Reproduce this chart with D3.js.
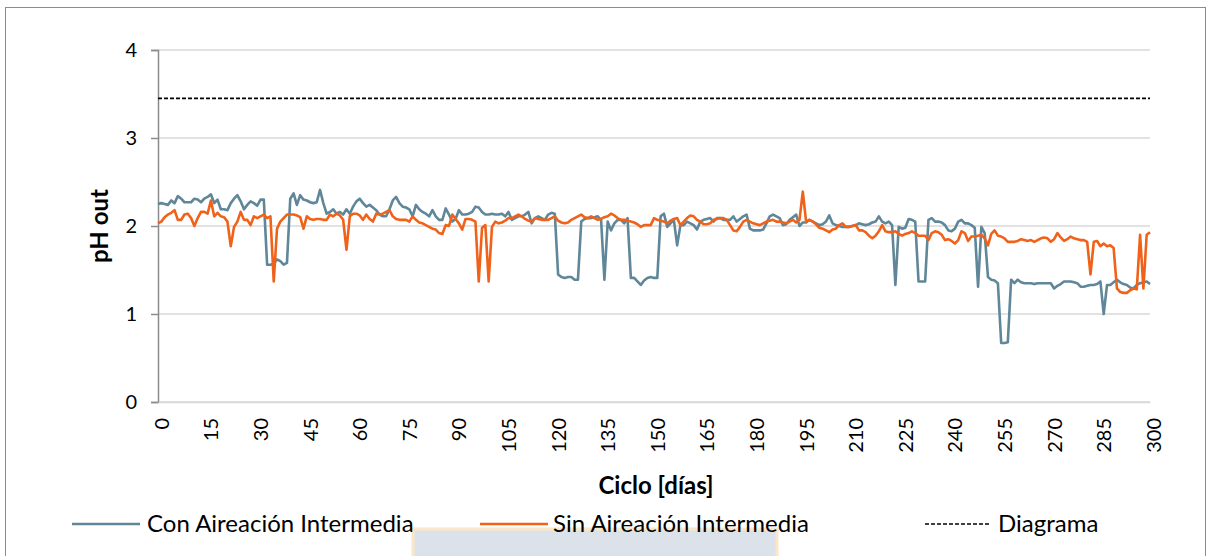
<!DOCTYPE html>
<html>
<head>
<meta charset="utf-8">
<script src="https://cdn.jsdelivr.net/npm/d3@7"></script>
<style>
  html, body { margin: 0; padding: 0; background: #ffffff; }
  svg { display: block; font-family: Lato, "Open Sans", sans-serif; }
</style>
</head>
<body>
<svg id="chart" width="1212" height="556"></svg>
<script>
// ---- Data ----
const seriesNames = ["Con Aireación Intermedia", "Sin Aireación Intermedia", "Diagrama"];

const conAireacion = [
  2.25, 2.26, 2.25, 2.24, 2.29, 2.26, 2.34, 2.31, 2.27, 2.27, 2.27, 2.31, 2.30, 2.27, 2.31,
  2.33, 2.36, 2.26, 2.30, 2.19, 2.19, 2.18, 2.26, 2.31, 2.35, 2.28, 2.19, 2.24, 2.28, 2.26,
  2.23, 2.30, 2.30, 1.56, 1.56, 1.57, 1.62, 1.60, 1.56, 1.58, 2.31, 2.37, 2.24, 2.35, 2.30,
  2.29, 2.27, 2.26, 2.27, 2.41, 2.26, 2.14, 2.16, 2.19, 2.14, 2.16, 2.13, 2.19, 2.14, 2.22,
  2.28, 2.31, 2.26, 2.22, 2.24, 2.21, 2.18, 2.13, 2.11, 2.11, 2.19, 2.29, 2.33, 2.26, 2.22,
  2.21, 2.19, 2.11, 2.24, 2.19, 2.16, 2.14, 2.11, 2.18, 2.11, 2.07, 2.07, 2.20, 2.13, 2.05,
  2.08, 2.18, 2.13, 2.13, 2.14, 2.16, 2.22, 2.21, 2.16, 2.13, 2.13, 2.14, 2.13, 2.13, 2.14,
  2.11, 2.16, 2.07, 2.09, 2.11, 2.11, 2.13, 2.16, 2.03, 2.09, 2.11, 2.09, 2.07, 2.13, 2.15,
  2.14, 1.45, 1.42, 1.41, 1.42, 1.42, 1.39, 1.39, 2.05, 2.08, 2.09, 2.09, 2.10, 2.11, 2.07,
  1.39, 2.05, 1.95, 2.03, 2.07, 2.07, 2.03, 2.09, 1.41, 1.41, 1.37, 1.33, 1.38, 1.41, 1.42,
  1.41, 1.41, 2.11, 2.14, 1.99, 2.03, 2.07, 1.78, 2.01, 2.01, 2.05, 2.03, 2.01, 1.96, 2.05,
  2.07, 2.08, 2.09, 2.05, 2.09, 2.09, 2.07, 2.07, 2.07, 2.11, 2.05, 2.08, 2.11, 2.13, 1.97,
  1.95, 1.95, 1.95, 1.96, 2.03, 2.11, 2.13, 2.11, 2.09, 2.01, 2.02, 2.07, 2.10, 2.13, 2.00,
  2.04, 2.04, 2.07, 2.05, 2.03, 2.01, 2.02, 2.05, 2.12, 2.03, 2.01, 2.00, 1.99, 1.99, 1.99,
  2.00, 2.01, 2.03, 2.02, 2.01, 2.02, 2.04, 2.05, 2.11, 2.05, 2.03, 2.05, 2.01, 1.33, 1.99,
  1.97, 1.98, 2.08, 2.07, 2.05, 1.37, 1.37, 1.37, 2.07, 2.09, 2.05, 2.05, 2.04, 2.01, 1.95,
  1.94, 1.97, 2.05, 2.07, 2.03, 2.03, 2.01, 1.98, 1.31, 1.99, 1.92, 1.42, 1.39, 1.38, 1.35,
  0.67, 0.67, 0.68, 1.39, 1.35, 1.39, 1.36, 1.35, 1.35, 1.35, 1.34, 1.35, 1.35, 1.35, 1.35,
  1.35, 1.29, 1.32, 1.34, 1.37, 1.37, 1.37, 1.36, 1.35, 1.31, 1.31, 1.32, 1.33, 1.33, 1.34,
  1.37, 1.00, 1.33, 1.33, 1.36, 1.39, 1.36, 1.34, 1.33, 1.30, 1.29, 1.33, 1.35, 1.36, 1.37, 1.34
];

const sinAireacion = [
  2.03, 2.05, 2.10, 2.13, 2.15, 2.18, 2.07, 2.07, 2.13, 2.14, 2.09, 2.00, 2.09, 2.16, 2.16,
  2.14, 2.29, 2.11, 2.15, 2.11, 2.10, 2.05, 1.77, 1.99, 2.05, 2.16, 2.07, 2.07, 2.01, 2.11,
  2.09, 2.11, 2.13, 2.09, 2.11, 1.37, 1.97, 2.05, 2.09, 2.13, 2.13, 2.13, 2.12, 2.10, 1.97,
  2.11, 2.08, 2.07, 2.08, 2.08, 2.07, 2.07, 2.13, 2.11, 2.14, 2.12, 2.07, 1.73, 2.11, 2.14,
  2.14, 2.12, 2.07, 2.13, 2.08, 2.05, 2.14, 2.13, 2.14, 2.16, 2.18, 2.11, 2.08, 2.07, 2.07,
  2.07, 2.05, 2.11, 2.07, 2.04, 2.03, 2.01, 1.99, 1.97, 1.96, 1.92, 1.91, 2.01, 2.00, 2.13,
  2.08, 2.03, 1.96, 2.08, 2.08, 2.07, 2.05, 1.37, 1.98, 2.01, 1.37, 1.99, 2.05, 2.03, 2.04,
  2.06, 2.09, 2.09, 2.11, 2.13, 2.11, 2.08, 2.06, 2.05, 2.09, 2.08, 2.07, 2.07, 2.07, 2.09,
  2.11, 2.06, 2.04, 2.03, 2.04, 2.07, 2.09, 2.11, 2.13, 2.10, 2.09, 2.11, 2.09, 2.07, 2.08,
  2.10, 2.11, 2.14, 2.12, 2.09, 2.07, 2.07, 2.06, 2.05, 2.04, 2.02, 1.99, 2.01, 2.01, 2.01,
  2.09, 2.07, 2.06, 2.05, 2.03, 2.06, 2.08, 2.09, 2.01, 2.05, 2.09, 2.12, 2.11, 2.07, 2.05,
  2.02, 2.02, 2.03, 2.07, 2.08, 2.09, 2.09, 2.07, 2.01, 1.95, 1.94, 1.99, 2.05, 2.07, 2.05,
  2.03, 2.02, 2.01, 2.03, 2.05, 2.06, 2.07, 2.05, 2.05, 2.04, 2.03, 2.05, 2.07, 2.04, 2.07,
  2.39, 2.05, 2.07, 2.05, 2.02, 1.98, 1.97, 1.95, 1.93, 1.96, 1.97, 2.01, 2.03, 1.99, 1.99,
  2.00, 2.01, 1.95, 1.95, 1.93, 1.89, 1.86, 1.89, 1.94, 2.01, 1.94, 1.93, 1.93, 1.94, 1.91,
  1.89, 1.91, 1.92, 1.94, 1.92, 1.89, 1.89, 1.89, 1.84, 1.92, 1.94, 1.93, 1.90, 1.84, 1.85,
  1.83, 1.80, 1.84, 1.94, 1.92, 1.83, 1.88, 1.88, 1.89, 1.90, 1.86, 1.78, 1.91, 1.95, 1.89,
  1.88, 1.86, 1.82, 1.82, 1.82, 1.83, 1.85, 1.84, 1.83, 1.84, 1.82, 1.84, 1.86, 1.87, 1.86,
  1.82, 1.85, 1.92, 1.87, 1.83, 1.85, 1.88, 1.86, 1.85, 1.84, 1.84, 1.82, 1.45, 1.82, 1.83,
  1.77, 1.80, 1.77, 1.78, 1.75, 1.29, 1.25, 1.24, 1.24, 1.27, 1.29, 1.28, 1.90, 1.29, 1.90, 1.93
];

// Diagrama: constant reference level across the whole range
const diagramaCiclo = [0, 300];
const diagramaValues = [3.45, 3.45];

// Categories: cycle day of each value (0 .. 300)
const ciclo = conAireacion.map((_, i) => i);

const xTickValues = [0, 15, 30, 45, 60, 75, 90, 105, 120, 135, 150, 165, 180, 195, 210, 225, 240, 255, 270, 285, 300];
const yTickValues = [0, 1, 2, 3, 4];

const xTitle = "Ciclo [días]";
const yTitle = "pH out";

// ---- Drawing ----
const svg = d3.select("#chart");
const plot = { left: 158, right: 1150, top: 50, bottom: 402 };
const colors = { con: "#5f8799", sin: "#f0621a", grid: "#d9d9d9", axis: "#8c8c8c" };

// watermark-like block behind the legend (part of the reference picture)
svg.append("rect")
  .attr("x", 413).attr("y", 529).attr("width", 364).attr("height", 40)
  .attr("fill", "#dbe2ea").attr("stroke", "#fce6c6").attr("stroke-width", 3);

// outer chart border
svg.append("rect")
  .attr("x", 5.5).attr("y", 7.5).attr("width", 1200).attr("height", 560)
  .attr("fill", "none").attr("stroke", "#8c8c8c").attr("stroke-width", 1);

const x = d3.scaleLinear().domain([0, 300]).range([plot.left, plot.right]);
const y = d3.scaleLinear().domain([0, 4]).range([plot.bottom, plot.top]);

// gridlines
svg.append("g")
  .selectAll("line")
  .data(yTickValues)
  .join("line")
  .attr("x1", plot.left).attr("x2", plot.right)
  .attr("y1", d => y(d)).attr("y2", d => y(d))
  .attr("stroke", colors.grid).attr("stroke-width", 1.5);

// y axis
const yAxis = svg.append("g")
  .attr("transform", `translate(${plot.left},0)`)
  .call(d3.axisLeft(y).tickValues(yTickValues).tickSize(7).tickPadding(14).tickFormat(d3.format("d")));
yAxis.select(".domain").attr("stroke", colors.axis).attr("stroke-width", 1.5);
yAxis.selectAll(".tick line").attr("stroke", colors.axis).attr("stroke-width", 1.5);
yAxis.selectAll(".tick text")
  .attr("font-size", 20).attr("fill", "#000").attr("font-family", "Lato, sans-serif");

// x axis (labels rotated)
const xAxis = svg.append("g")
  .attr("transform", `translate(0,${plot.bottom})`)
  .call(d3.axisBottom(x).tickValues(xTickValues).tickSize(0).tickFormat(d3.format("d")));
xAxis.select(".domain").attr("stroke", colors.grid).attr("stroke-width", 1.5);
xAxis.selectAll(".tick text")
  .attr("font-size", 20).attr("fill", "#000").attr("font-family", "Lato, sans-serif")
  .attr("text-anchor", "end")
  .attr("transform", "rotate(-90)")
  .attr("x", -16).attr("y", 3).attr("dy", "0.36em");

// lines
const line = d3.line().x((d, i) => x(ciclo[i])).y(d => y(d));

svg.append("path")
  .datum(conAireacion)
  .attr("fill", "none").attr("stroke", colors.con).attr("stroke-width", 2.6)
  .attr("stroke-linejoin", "round")
  .attr("d", line);

svg.append("path")
  .datum(sinAireacion)
  .attr("fill", "none").attr("stroke", colors.sin).attr("stroke-width", 2.6)
  .attr("stroke-linejoin", "round")
  .attr("d", line);

const dLine = d3.line().x((d, i) => x(diagramaCiclo[i])).y(d => y(d));
svg.append("path")
  .datum(diagramaValues)
  .attr("fill", "none").attr("stroke", "#000").attr("stroke-width", 1.6)
  .attr("stroke-dasharray", "4,2")
  .attr("d", dLine);

// axis titles
svg.append("text")
  .attr("x", 656).attr("y", 494)
  .attr("text-anchor", "middle")
  .attr("font-size", 24).attr("font-weight", "bold")
  .text(xTitle);

svg.append("text")
  .attr("transform", "translate(108,226) rotate(-90)")
  .attr("text-anchor", "middle")
  .attr("font-size", 24).attr("font-weight", "bold")
  .text(yTitle);

// legend
const legendItems = [
  { name: seriesNames[0], color: colors.con, dash: null, x1: 72, x2: 140, tx: 147 },
  { name: seriesNames[1], color: colors.sin, dash: null, x1: 480, x2: 548, tx: 553 },
  { name: seriesNames[2], color: "#000", dash: "4,2", x1: 925, x2: 990, tx: 998 }
];
const lg = svg.append("g");
legendItems.forEach(it => {
  lg.append("line")
    .attr("x1", it.x1).attr("x2", it.x2).attr("y1", 524).attr("y2", 524)
    .attr("stroke", it.color).attr("stroke-width", it.dash ? 1.6 : 2.6)
    .attr("stroke-dasharray", it.dash);
  lg.append("text")
    .attr("x", it.tx).attr("y", 532)
    .attr("font-size", 24)
    .text(it.name);
});
</script>
</body>
</html>
